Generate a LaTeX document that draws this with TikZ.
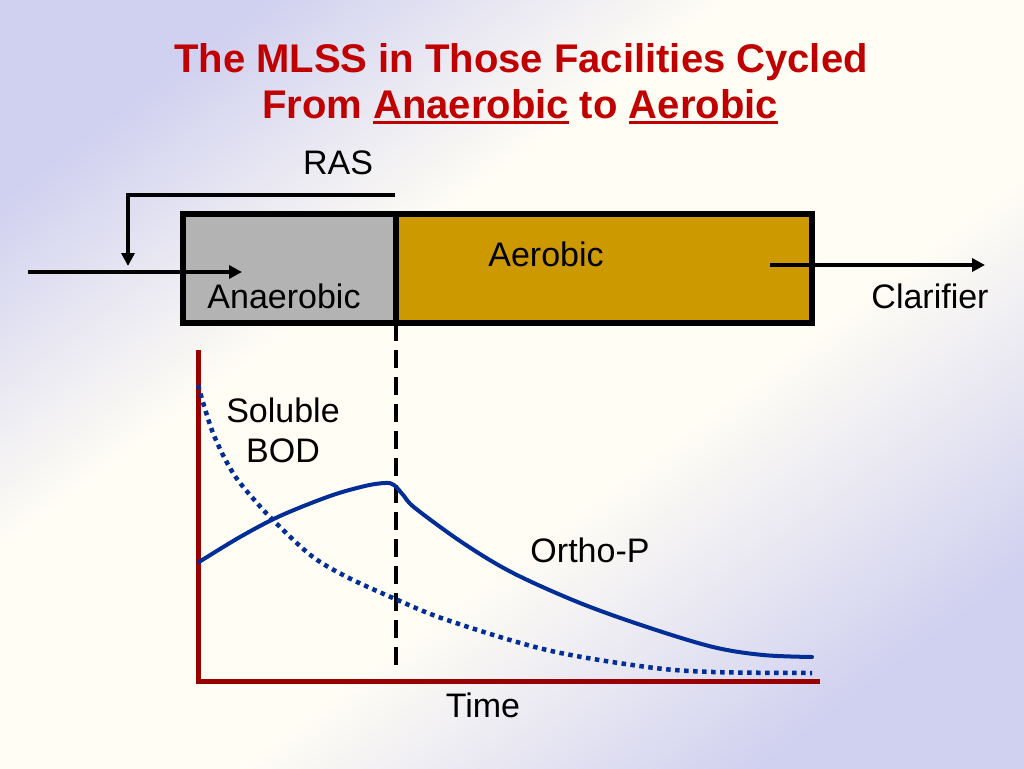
\documentclass[tikz,border=0pt]{standalone}
\usepackage{fontspec}
\setmainfont{Liberation Sans}
\usetikzlibrary{arrows.meta}
\definecolor{lav}{RGB}{208,208,240}
\definecolor{ivory}{RGB}{255,253,244}
\definecolor{titlered}{RGB}{192,0,0}
\definecolor{tankgray}{RGB}{179,179,179}
\definecolor{tankgold}{RGB}{204,153,0}
\definecolor{curveblue}{RGB}{0,45,150}
\definecolor{axisred}{RGB}{153,0,0}
\pgfdeclarehorizontalshading{bgshade}{100bp}{color(0bp)=(lav); color(24bp)=(lav); color(40bp)=(ivory); color(58bp)=(ivory); color(76bp)=(lav); color(100bp)=(lav)}
\newcommand\myul[1]{\setbox0=\hbox{#1}\rlap{\rule[-6pt]{\wd0}{3.5pt}}\box0\relax}
\begin{document}
\begin{tikzpicture}[x=1pt,y=-1pt,
  lbl/.style={font=\fontsize{34}{40}\selectfont, inner sep=0, text=black},
  ttl/.style={font=\fontsize{40}{46}\selectfont\bfseries, inner sep=0, text=titlered, anchor=base},
  tank/.style={draw=black, line width=6, inner sep=0, outer sep=0, anchor=north west, minimum height=109},
  flow/.style={line width=4, -{Triangle[length=13pt,width=13pt]}},
  axisline/.style={draw=axisred, line width=5},
  ortho/.style={draw=curveblue, line width=4, line cap=round},
  bod/.style={draw=curveblue, line width=4.5, dash pattern=on 4.5pt off 4.5pt},
  divider/.style={draw=black, line width=4, dash pattern=on 18pt off 9pt}]
\useasboundingbox (0,0) rectangle (1024,768);
\shade[shading=bgshade, shading angle=-53] (0,0) rectangle (1024,768);
% title
\node[ttl] (title1) at (521,72) {The MLSS in Those Facilities Cycled};
\node[ttl] (title2) at (520,118) {From \myul{Anaerobic} to \myul{Aerobic}};
% tanks
\node[tank, fill=tankgray, minimum width=213] (anaer) at (183,214) {};
\node[tank, fill=tankgold, minimum width=416] (aer) at (396,214) {};
\node[lbl] (anaerlbl) at (284,296) {Anaerobic};
\node[lbl] (aerlbl) at (546,254) {Aerobic};
\node[lbl] (ras) at (338,163) {RAS};
\node[lbl] (clar) at (930,296) {Clarifier};
% flows
\coordinate (rasstart) at (395,195);
\coordinate (rasend) at (128,266);
\draw[flow] (rasstart) -| (rasend);
\coordinate (inlet) at (28,272);
\coordinate (inletend) at (242,272);
\draw[flow] (inlet) -- (inletend);
\coordinate (outstart) at (770,265);
\coordinate (outend) at (985,265);
\draw[flow] (outstart) -- (outend);
% divider
\coordinate (divend) at (396,669);
\draw[divider] (anaer.south east) -- (divend);
% axes
\coordinate (ytop) at (198,350);
\coordinate (orig) at (198,681);
\coordinate (xend) at (820,681);
\draw[axisline] (ytop) -- (orig) -- (xend);
% curves
\draw[ortho] plot[smooth, tension=0.55] coordinates {(199,562) (240,537) (280,516) (330,496) (365,486) (385,483) (394,485) (404,496) (415,508) (463,543) (513,573) (580,603) (647,627) (713,647) (763,655) (812,657)};
\draw[bod] plot[smooth, tension=0.55] coordinates {(198,385) (213,433) (233,473) (257,503) (280,527) (313,557) (347,577) (393,598) (447,620) (547,650) (647,667) (713,672) (812,673)};
% labels
\node[lbl, align=center, font=\fontsize{34}{40}\selectfont] (bodlbl) at (283,430) {Soluble\\BOD};
\node[lbl] (orthlbl) at (590,550) {Ortho-P};
\node[lbl] (timelbl) at (483,705) {Time};
\end{tikzpicture}
\end{document}
